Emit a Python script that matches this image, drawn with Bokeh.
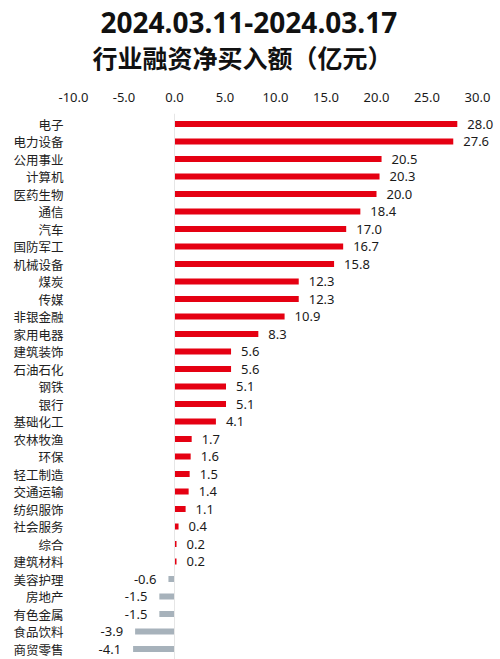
from bokeh.plotting import figure
from bokeh.models import (ColumnDataSource, Range1d, FixedTicker, NumeralTickFormatter,
                          Span, Title)
from bokeh.core.properties import value
from bokeh.embed import file_html
from bokeh.resources import INLINE

categories = ["电子", "电力设备", "公用事业", "计算机", "医药生物", "通信", "汽车", "国防军工",
              "机械设备", "煤炭", "传媒", "非银金融", "家用电器", "建筑装饰", "石油石化", "钢铁",
              "银行", "基础化工", "农林牧渔", "环保", "轻工制造", "交通运输", "纺织服饰", "社会服务",
              "综合", "建筑材料", "美容护理", "房地产", "有色金属", "食品饮料", "商贸零售"]
values = [28.0, 27.6, 20.5, 20.3, 20.0, 18.4, 17.0, 16.7, 15.8, 12.3, 12.3, 10.9, 8.3, 5.6,
          5.6, 5.1, 5.1, 4.1, 1.7, 1.6, 1.5, 1.4, 1.1, 0.4, 0.2, 0.2, -0.6, -1.5, -1.5, -3.9, -4.1]
x_ticks = [-10, -5, 0, 5, 10, 15, 20, 25, 30]
title_line1 = "2024.03.11-2024.03.17"
title_line2 = "行业融资净买入额（亿元）"

CJK = "Noto Sans CJK SC"
NUM = "Noto Sans"
RED = "#E50012"
GRAY = "#A7B2BB"

idx = list(range(len(categories)))
pos_idx = [i for i in idx if values[i] >= 0]
neg_idx = [i for i in idx if values[i] < 0]

pos_src = ColumnDataSource(dict(
    y=pos_idx,
    v=[values[i] for i in pos_idx],
    lab=["%.1f" % values[i] for i in pos_idx],
))
neg_src = ColumnDataSource(dict(
    y=neg_idx,
    v=[values[i] for i in neg_idx],
    lab=["%.1f" % values[i] for i in neg_idx],
))

W, H = 500, 659
LEFT, RIGHT, TOP = 73, 3, 113
p = figure(width=W, height=H, output_backend="svg", toolbar_location=None,
           x_range=Range1d(-10, 31.98), y_range=Range1d(30.6, -0.6),
           x_axis_location="above", min_border_left=LEFT, min_border_right=RIGHT,
           min_border_top=TOP, min_border_bottom=0, title=None)
p.outline_line_color = None
p.grid.visible = False
p.background_fill_color = "white"
p.border_fill_color = "white"

p.hbar(y="y", left=0, right="v", height=0.34, source=pos_src, fill_color=RED, line_color=None)
p.hbar(y="y", left="v", right=0, height=0.34, source=neg_src, fill_color=GRAY, line_color=None)

p.text(x="v", y="y", text="lab", source=pos_src, x_offset=10, text_align="left",
       text_baseline="middle", text_font=value(NUM), text_font_size="13px", text_color="#1a1a1a")
p.text(x="v", y="y", text="lab", source=neg_src, x_offset=-12, text_align="right",
       text_baseline="middle", text_font=value(NUM), text_font_size="13px", text_color="#1a1a1a")

p.add_layout(Span(location=0, dimension="height", line_color="#e6e6e6", line_width=1))

xa = p.xaxis[0]
xa.ticker = FixedTicker(ticks=x_ticks)
xa.formatter = NumeralTickFormatter(format="0.0")
xa.axis_line_color = None
xa.major_tick_line_color = None
xa.minor_tick_line_color = None
xa.major_tick_out = 0
xa.major_tick_in = 0
xa.minor_tick_out = 0
xa.minor_tick_in = 0
xa.major_label_standoff = 12
xa.major_label_text_font = NUM
xa.major_label_text_font_size = "13px"
xa.major_label_text_color = "#1a1a1a"
# invisible spacer label between the tick labels and the titles
xa.axis_label = " "
xa.axis_label_text_font_size = "1px"
xa.axis_label_standoff = 7

ya = p.yaxis[0]
ya.ticker = FixedTicker(ticks=idx)
ya.major_label_overrides = {i: c for i, c in zip(idx, categories)}
ya.axis_line_color = None
ya.major_tick_line_color = None
ya.minor_tick_line_color = None
ya.major_tick_out = 0
ya.major_tick_in = 0
ya.minor_tick_out = 0
ya.minor_tick_in = 0
ya.major_label_standoff = 10
ya.major_label_text_font = CJK
ya.major_label_text_font_size = "12.5px"
ya.major_label_text_color = "#222222"

t2 = Title(text=title_line2, align="left", text_font=CJK, text_font_size="25px",
           text_font_style="bold", text_color="#111111", standoff=8, offset=92 - LEFT)
p.add_layout(t2, "above")
t1 = Title(text=title_line1, align="left", text_font=NUM, text_font_size="28px",
           text_font_style="bold", text_color="#111111", standoff=0, offset=100 - LEFT)
p.add_layout(t1, "above")

open("out.html", "w").write(file_html(p, INLINE))
